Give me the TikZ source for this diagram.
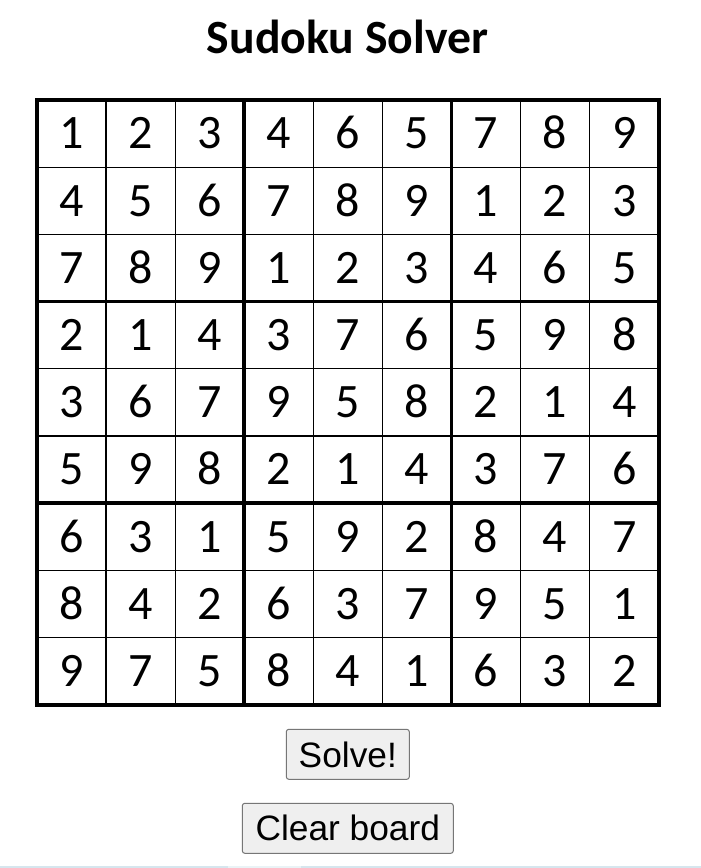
\documentclass[tikz,border=0pt]{standalone}
\usepackage{fontspec}
\setmainfont{Carlito}
\newfontfamily\digitfont[Numbers=Lining]{Carlito}
\newfontfamily\btnfont{Liberation Sans}
\definecolor{btnfill}{HTML}{EFEFEF}
\definecolor{btnline}{HTML}{767676}
\definecolor{stripa}{HTML}{D6E6EE}
\definecolor{stripb}{HTML}{EAF3F6}
\begin{document}
\begin{tikzpicture}[x=1pt,y=-1pt,
  thinline/.style={line width=1.2pt,black},
  thickline/.style={line width=3.8pt,black},
  digit/.style={font=\digitfont\fontsize{48}{50}\selectfont,inner sep=0pt,anchor=base},
  btn/.style={draw=btnline,fill=btnfill,line width=1pt,rounded corners=2.5pt,inner sep=0pt,font=\btnfont\fontsize{35.3}{40}\selectfont},
  btntext/.style={inner sep=0pt,anchor=base,font=\btnfont\fontsize{35.3}{40}\selectfont},
  titlestyle/.style={font=\bfseries\fontsize{47.7}{50}\selectfont,inner sep=0pt,anchor=base}]
\useasboundingbox (0,0) rectangle (701,868);
\fill[white] (0,0) rectangle (701,868);
\fill[stripa] (0,866) rectangle (701,868);
\fill[stripb] (228,866) rectangle (301,868);
\node[titlestyle] (title) at (347.5,53) {Sudoku Solver};
\def\gx{37}\def\gy{100}\def\cw{69.08}\def\ch{67.19}
% thin lines
\foreach \i in {1,2,4,5,7,8}{
  \draw[thinline] (\gx+\i*\cw,\gy) -- (\gx+\i*\cw,\gy+9*\ch);
  \draw[thinline] (\gx,\gy+\i*\ch) -- (\gx+9*\cw,\gy+\i*\ch);
}
\foreach \i in {3,6}{
  \draw[thickline] (\gx+\i*\cw,\gy) -- (\gx+\i*\cw,\gy+9*\ch);
  \draw[thickline] (\gx,\gy+\i*\ch) -- (\gx+9*\cw,\gy+\i*\ch);
}
\draw[thickline] (\gx,\gy) rectangle (\gx+9*\cw,\gy+9*\ch);
% digits
\foreach \row [count=\r from 0] in {
  {1,2,3,4,6,5,7,8,9},
  {4,5,6,7,8,9,1,2,3},
  {7,8,9,1,2,3,4,6,5},
  {2,1,4,3,7,6,5,9,8},
  {3,6,7,9,5,8,2,1,4},
  {5,9,8,2,1,4,3,7,6},
  {6,3,1,5,9,2,8,4,7},
  {8,4,2,6,3,7,9,5,1},
  {9,7,5,8,4,1,6,3,2}}{
  \foreach \d [count=\c from 0] in \row {
    \node[digit] (cell-\r-\c) at (\gx+\c*\cw+0.5*\cw,\gy+\r*\ch+0.5*\ch+15.4) {\d};
  }
}
\node[btn,minimum width=123pt,minimum height=50pt] (solve) at (347.8,754.3) {};
\node[btntext] (solvetext) at (solve.center) [yshift=-12.8pt] {Solve!};
\node[btn,minimum width=211pt,minimum height=50pt] (clear) at (347.8,828.3) {};
\node[btntext] (cleartext) at (clear.center) [yshift=-11.9pt] {Clear board};
\end{tikzpicture}
\end{document}
